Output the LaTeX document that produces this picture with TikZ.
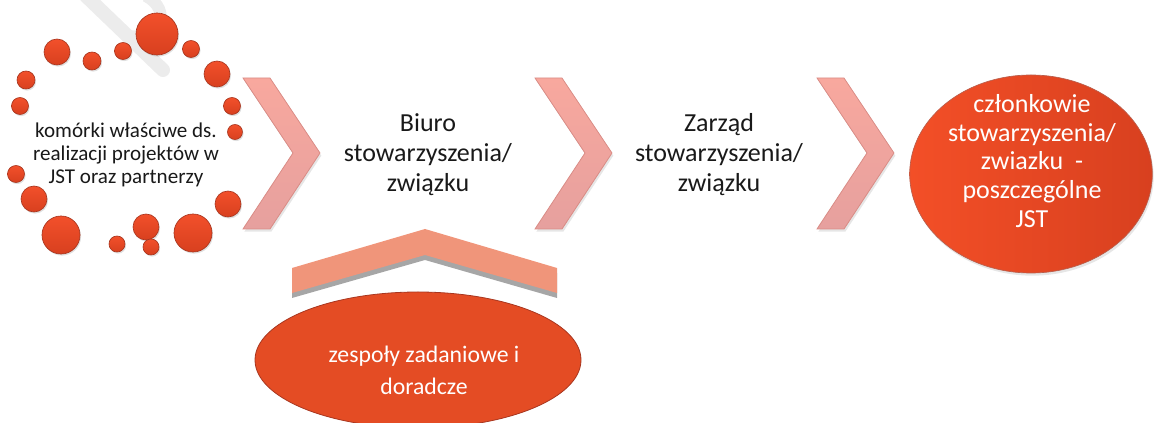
\documentclass[tikz,border=0pt]{standalone}
\usepackage{fontspec}
\setmainfont{Carlito}
\usetikzlibrary{shapes.geometric,shadows}

\definecolor{ballred}{HTML}{F2502B}
\definecolor{balldark}{HTML}{D8401F}
\definecolor{ballline}{HTML}{A8361F}
\definecolor{chevtop}{HTML}{F8A89E}
\definecolor{chevbot}{HTML}{E6A09E}
\definecolor{chevline}{HTML}{D98C86}
\definecolor{roofsalmon}{HTML}{F0957A}
\definecolor{teamred}{HTML}{E44C24}
\definecolor{memberred}{HTML}{F34F27}

\tikzset{
  ball/.style={top color=ballred, bottom color=balldark, draw=ballline, line width=0.5pt,
    drop shadow={opacity=0.25, shadow xshift=0.8pt, shadow yshift=-1.2pt}},
  chevron/.style={top color=chevtop, bottom color=chevbot, draw=chevline, line width=0.6pt,
    drop shadow={opacity=0.2, shadow xshift=1pt, shadow yshift=-2pt}},
  darktext/.style={align=center, text=black!90},
  lighttext/.style={align=center, text=white}
}

\begin{document}
\begin{tikzpicture}[x=0.75pt,y=-0.75pt]
  \useasboundingbox (0,0) rectangle (1154,423);

  % Watermark trace
  \draw[gray!15, line width=10.5pt, line cap=round] (86,-4) -- (163,70);
  \draw[gray!15, line width=9pt] (146,-4) .. controls (172,10) and (162,40) .. (128,36);

  % Ring of balls round the first text
  \foreach \bx/\by/\br in {157/34/21, 57/52/13, 92/61/9, 123/51/8.5, 191/49/8.5, 217/74/13,
      26/80/9, 20/106/8.5, 232/106/8.5, 235/132/7.5, 16/174/8.5, 34/199/13, 228/204/13,
      61/235/19, 117/244/8, 146/227/13, 151/247/8, 193/233/19}
    \draw[ball] (\bx,\by) circle (\br);
  \node[darktext, font=\fontsize{15.8pt}{17.4pt}\selectfont] (cells) at (126,155)
    {komórki właściwe ds.\\realizacji projektów w\\JST oraz partnerzy};

  % Chevrons
  \foreach \cx in {243,535,817}
    \draw[chevron] (\cx,78) -- ({\cx+27},78) -- ({\cx+77},153) -- ({\cx+27},229)
      -- (\cx,229) -- ({\cx+50},153) -- cycle;

  % Middle texts
  \node[darktext, font=\fontsize{19.5pt}{22.5pt}\selectfont] (office) at (428,155)
    {Biuro\\stowarzyszenia/\\związku};
  \node[darktext, font=\fontsize{19.5pt}{22.5pt}\selectfont] (board) at (719,155)
    {Zarząd\\stowarzyszenia/\\związku};

  % Members
  \node[ellipse, minimum width=182pt, minimum height=148.5pt, left color=memberred, right color=balldark,
    draw=ballline!80, line width=0.5pt, drop shadow={opacity=0.2, shadow xshift=1pt, shadow yshift=-2pt}]
    (members) at (1031,174) {};
  \node[lighttext, font=\fontsize{19.5pt}{21.5pt}\selectfont] (memberstxt) at (1032,161)
    {członkowie\\stowarzyszenia/\\zwiazku\ \ -\\poszczególne\\JST};

  % Roof over the teams
  \fill[gray!70] (292,298) -- (292,273) -- (425,234) -- (557,273) -- (557,298) -- (425,260) -- cycle;
  \fill[roofsalmon] (292,293) -- (292,268) -- (425,229) -- (557,268) -- (557,293) -- (425,255) -- cycle;

  % Teams
  \node[ellipse, minimum width=244.5pt, minimum height=102pt, fill=teamred, draw=ballline, line width=0.6pt]
    (teams) at (418,360) {};
  \node[lighttext, font=\fontsize{17.8pt}{24pt}\selectfont] (teamstxt) at (424,370)
    {zespoły zadaniowe i\\doradcze};
\end{tikzpicture}
\end{document}
